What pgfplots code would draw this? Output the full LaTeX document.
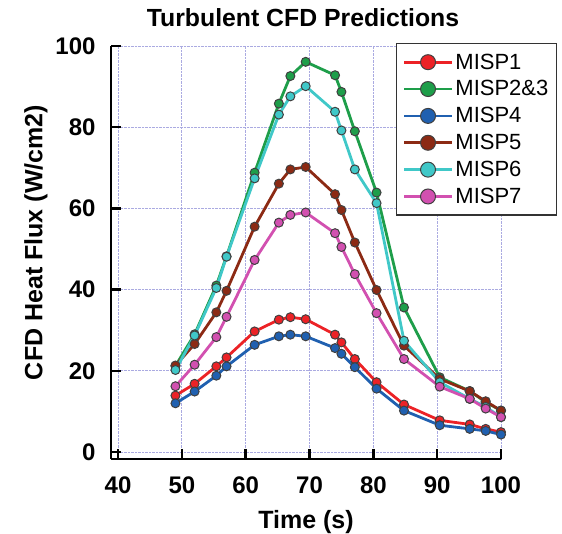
\documentclass[border=0pt]{standalone}
\usepackage{pgfplots}
\pgfplotsset{compat=1.18}
\usepackage{fontspec}
\setmainfont{Liberation Sans}
\definecolor{cR}{RGB}{236,34,38}
\definecolor{cG}{RGB}{30,158,74}
\definecolor{cB}{RGB}{32,96,176}
\definecolor{cBr}{RGB}{140,42,20}
\definecolor{cC}{RGB}{64,200,200}
\definecolor{cP}{RGB}{210,80,176}
\definecolor{gridc}{RGB}{170,170,225}
\pgfplotsset{
  ser/.style={color=#1, line width=2.8pt, mark=*, mark size=4.5pt,
    mark options={fill=#1, draw=black!75, line width=1pt, solid}},
}
\begin{document}
\begin{tikzpicture}[x=1pt,y=1pt]
\useasboundingbox (0,0) rectangle (562,533);
\node[font=\fontsize{24.8}{26}\selectfont\bfseries, anchor=base] at (303,506) {Turbulent CFD Predictions};
\begin{axis}[
  at={(111pt,74pt)}, anchor=south west,
  scale only axis, width=390pt, height=413pt,
  xmin=38.9, xmax=100, ymin=-1.72, ymax=100,
  xtick={40,50,...,100}, ytick={0,20,...,100},
  axis x line=bottom, axis y line=left,
  axis line style={-, line width=2.6pt, black},
  tick style={line width=2.6pt, black},
  major tick length=10pt,
  tick align=inside,
  grid=major,
  major grid style={densely dotted, gridc, line width=0.9pt},
  /pgf/number format/assume math mode=true,
  tick label style={font=\fontsize{24}{25}\selectfont\bfseries},
  yticklabel style={xshift=-12pt},
  xticklabel style={yshift=-14pt},
  xlabel={Time (s)}, ylabel={CFD Heat Flux (W/cm2)},
  label style={font=\fontsize{25}{26}\selectfont\bfseries},
  xlabel style={yshift=-10pt},
  ylabel style={yshift=1pt, xshift=10pt},
  legend cell align=left,
  legend style={at={(1.1436,1.007)}, anchor=north east,
    font=\fontsize{22}{23}\selectfont, draw=black!80, line width=1.3pt,
    row sep=6pt, inner ysep=8pt, inner xsep=6pt},
  legend image code/.code={
    \draw[mark repeat=2, mark phase=2, mark size=7.5pt, line width=2.8pt]
      plot coordinates {(0pt,0pt) (24pt,0pt) (48pt,0pt)};},
]
% MISP1
\addplot[ser=cR] coordinates {(49,13.9)(52,16.8)(55.4,21.1)(57,23.3)(61.4,29.7)(65.2,32.6)(67,33.2)(69.4,32.7)(74,28.9)(75,27.0)(77.1,22.9)(80.5,17.2)(84.8,11.7)(90.4,7.8)(95.1,6.8)(97.6,5.7)(100,4.9)};
\addlegendentry{MISP1}
% MISP2&3
\addplot[ser=cG] coordinates {(49,21.2)(52,29.0)(55.4,41.0)(57,48.2)(61.4,68.8)(65.2,85.8)(67,92.6)(69.4,96.1)(74,92.8)(75,88.7)(77.1,79.0)(80.5,63.9)(84.8,35.6)(90.4,18.4)(95.1,15.0)(97.6,12.3)(100,10.2)};
\addlegendentry{MISP2\&3}
% MISP4
\addplot[ser=cB] coordinates {(49,12.0)(52,14.9)(55.4,18.8)(57,21.1)(61.4,26.4)(65.2,28.5)(67,28.9)(69.4,28.5)(74,25.6)(75,24.2)(77.1,20.9)(80.5,15.6)(84.8,10.2)(90.4,6.6)(95.1,5.7)(97.6,5.2)(100,4.3)};
\addlegendentry{MISP4}
% MISP5
\addplot[ser=cBr] coordinates {(49,21.3)(52,26.6)(55.4,34.4)(57,39.7)(61.4,55.5)(65.2,66.1)(67,69.6)(69.4,70.2)(74,63.5)(75,59.6)(77.1,51.6)(80.5,39.9)(84.8,26.2)(90.4,18.0)(95.1,15.0)(97.6,12.5)(100,10.2)};
\addlegendentry{MISP5}
% MISP6
\addplot[ser=cC] coordinates {(49,20.2)(52,28.7)(55.4,40.4)(57,48.1)(61.4,67.4)(65.2,83.1)(67,87.6)(69.4,90.1)(74,83.8)(75,79.2)(77.1,69.6)(80.5,61.3)(84.8,27.4)(90.4,17.2)(95.1,13.1)(97.6,11.1)(100,8.6)};
\addlegendentry{MISP6}
% MISP7
\addplot[ser=cP] coordinates {(49,16.2)(52,21.5)(55.4,28.3)(57,33.3)(61.4,47.3)(65.2,56.5)(67,58.4)(69.4,59.0)(74,53.9)(75,50.5)(77.1,43.8)(80.5,34.2)(84.8,22.9)(90.4,16.1)(95.1,13.1)(97.6,10.7)(100,8.6)};
\addlegendentry{MISP7}
\end{axis}
\end{tikzpicture}
\end{document}
